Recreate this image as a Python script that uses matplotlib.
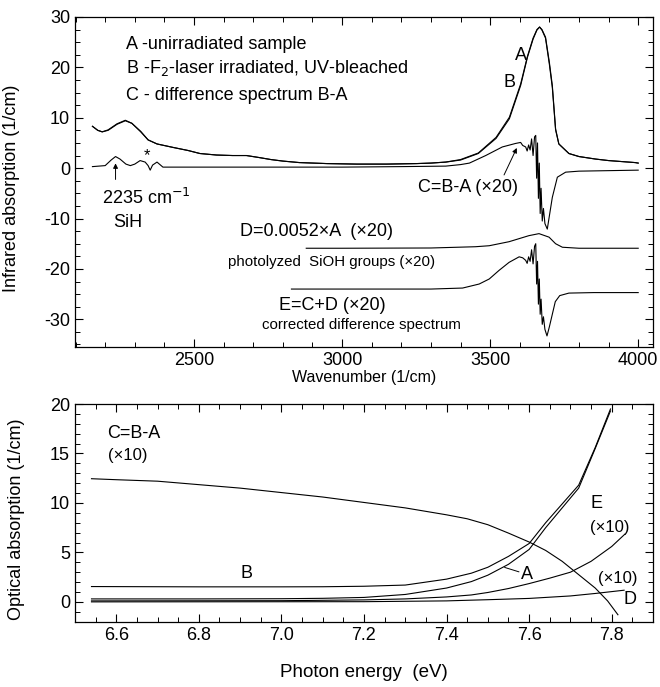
import matplotlib
matplotlib.use('Agg')
import matplotlib.pyplot as plt
from matplotlib.ticker import MultipleLocator

plt.rcParams['font.family'] = ['Liberation Sans', 'DejaVu Sans']
plt.rcParams['axes.unicode_minus'] = False

# ---- top panel: IR spectra (wavenumber, 1/cm) ----
wn_ab = [2157, 2175, 2190, 2210, 2240, 2268, 2290, 2320, 2345, 2375, 2430, 2480,
         2520, 2576, 2630, 2677, 2720, 2760, 2800, 2856, 2950, 3050, 3150, 3250,
         3300, 3350, 3400, 3460, 3520, 3565, 3603, 3626, 3645, 3658, 3667, 3675,
         3687, 3700, 3710, 3721, 3732, 3766, 3800, 3856, 3900, 3990, 4000]
ir_a = [8.3, 7.5, 7.2, 7.5, 8.7, 9.4, 8.9, 7.2, 5.6, 4.8, 4.1, 3.5,
        2.9, 2.6, 2.5, 2.5, 2.1, 1.7, 1.4, 1.1, 0.9, 0.8, 0.8, 0.9,
        1.0, 1.2, 1.6, 2.9, 5.9, 9.8, 16.4, 22.0, 25.6, 27.4, 28.0, 27.5,
        26.0, 21.0, 16.4, 7.8, 4.8, 2.9, 2.3, 1.8, 1.5, 1.1, 1.0]
ir_b = [8.3, 7.5, 7.2, 7.6, 8.8, 9.5, 8.9, 7.3, 5.6, 4.8, 4.1, 3.5,
        2.9, 2.6, 2.5, 2.5, 2.1, 1.7, 1.4, 1.1, 0.9, 0.8, 0.8, 0.9,
        1.0, 1.2, 1.7, 3.0, 6.1, 10.1, 16.7, 22.2, 25.8, 27.5, 28.0, 27.4,
        25.8, 20.6, 16.0, 7.6, 4.8, 2.9, 2.3, 1.8, 1.5, 1.1, 1.0]

wn_c = [2157, 2200, 2220, 2235, 2250, 2270, 2285, 2300, 2318, 2335, 2345, 2352,
        2360, 2375, 2385, 2395, 2450, 2600, 2800, 3000, 3200, 3350, 3400, 3430,
        3485, 3541, 3586, 3603, 3610, 3620, 3625, 3630, 3635, 3640, 3645, 3650,
        3654, 3657, 3660, 3663, 3666, 3669, 3672, 3676, 3680, 3685, 3693, 3700,
        3710, 3727, 3755, 3800, 3900, 4000]
ir_c = [0.3, 0.5, 1.6, 2.3, 1.8, 0.8, 0.5, 0.8, 1.5, 1.2, 0.5, -0.4,
        0.6, 1.2, 0.7, 0.2, 0.2, 0.2, 0.2, 0.2, 0.3, 0.4, 0.7, 1.0,
        2.5, 4.2, 4.9, 5.1, 4.5, 4.2, 3.4, 4.6, 3.6, 5.8, 2.5, 6.2,
        6.5, -2.0, 5.0, -6.0, 1.0, -9.0, -4.0, -10.5, -8.0, -11.0, -12.1, -9.5,
        -5.8, -1.8, -0.8, -0.6, -0.5, -0.4]

wn_d = [2879, 3000, 3300, 3450, 3497, 3564, 3631, 3665, 3699, 3721, 3744, 3800, 4000]
ir_d = [-15.9, -15.9, -15.85, -15.6, -15.4, -14.6, -13.4, -13.0, -13.7, -15.0, -15.7,
        -15.9, -15.9]

wn_e = [2829, 3000, 3300, 3407, 3463, 3497, 3530, 3564, 3598, 3610, 3620, 3625,
        3630, 3635, 3640, 3645, 3650, 3654, 3657, 3660, 3663, 3666, 3669, 3672,
        3676, 3680, 3685, 3692, 3700, 3710, 3720, 3735, 3766, 3850, 4000]
ir_e = [-24.0, -24.0, -24.0, -23.8, -23.0, -22.0, -20.3, -18.7, -17.6, -17.8, -18.3, -18.9,
        -17.6, -18.5, -16.2, -19.0, -15.5, -15.0, -23.0, -18.5, -27.0, -22.0, -29.0, -26.0,
        -31.0, -29.5, -32.0, -33.3, -31.5, -29.0, -26.5, -25.3, -24.8, -24.7, -24.7]

# ---- bottom panel: optical absorption vs photon energy (eV) ----
ev_c = [6.54, 6.6, 6.7, 6.8, 6.9, 7.0, 7.1, 7.2, 7.3, 7.4, 7.45, 7.5, 7.55, 7.6,
        7.64, 7.68, 7.72, 7.76, 7.79, 7.815]
uv_c = [12.45, 12.35, 12.2, 11.85, 11.5, 11.05, 10.6, 10.05, 9.5, 8.8, 8.4, 7.8, 6.95,
        6.05, 5.2, 4.1, 2.75, 1.4, 0.1, -1.3]

ev_ab = [6.54, 6.8, 7.0, 7.1, 7.2, 7.3, 7.4, 7.46, 7.5, 7.55, 7.6, 7.64, 7.68,
         7.72, 7.76, 7.797]
uv_a = [0.3, 0.3, 0.32, 0.36, 0.45, 0.75, 1.4, 2.05, 2.7, 3.8, 5.3, 7.5, 9.5,
        11.5, 15.5, 19.3]
uv_b = [1.55, 1.52, 1.52, 1.53, 1.58, 1.7, 2.3, 2.9, 3.5, 4.6, 5.9, 8.0, 9.9,
        11.8, 15.6, 19.5]

ev_e = [6.54, 7.0, 7.2, 7.3, 7.4, 7.46, 7.5, 7.55, 7.6, 7.65, 7.7, 7.75, 7.8, 7.832]
uv_e = [0.1, 0.12, 0.2, 0.3, 0.5, 0.7, 0.95, 1.35, 1.85, 2.4, 3.0, 4.1, 5.6, 6.85]

ev_d = [6.54, 7.2, 7.4, 7.457, 7.5, 7.6, 7.7, 7.76, 7.83]
uv_d = [0.0, 0.02, 0.1, 0.17, 0.22, 0.35, 0.6, 0.85, 1.18]

fig = plt.figure(figsize=(6.6, 6.87), dpi=100)
ax1 = fig.add_axes([0.1136, 0.4949, 0.8758, 0.4804])
ax2 = fig.add_axes([0.1136, 0.0951, 0.8758, 0.3168])

lw = 0.8
ax1.plot(wn_ab, ir_a, color='black', lw=lw)
ax1.plot(wn_ab, ir_b, color='black', lw=lw)
ax1.plot(wn_c, ir_c, color='black', lw=lw)
ax1.plot(wn_d, ir_d, color='black', lw=lw)
ax1.plot(wn_e, ir_e, color='black', lw=lw)

ax1.set_xlim(2098, 4050)
ax1.set_ylim(-35.5, 30)
ax1.xaxis.set_major_locator(MultipleLocator(500))
ax1.xaxis.set_minor_locator(MultipleLocator(100))
ax1.yaxis.set_major_locator(MultipleLocator(10))
ax1.yaxis.set_minor_locator(MultipleLocator(2.5))
ax1.set_xticks([2500, 3000, 3500, 4000])
ax1.set_xlabel('Wavenumber (1/cm)', fontsize=11.5, labelpad=1)
ax1.set_ylabel('Infrared absorption (1/cm)', fontsize=13)
ax1.yaxis.set_label_coords(-0.095, 0.48)

fs = 13
sm = 10.8
ax1.text(2270, 23.7, 'A -unirradiated sample', fontsize=fs)
ax1.text(2270, 18.8, 'B -F$_2$-laser irradiated, UV-bleached', fontsize=fs)
ax1.text(2270, 13.5, 'C - difference spectrum B-A', fontsize=fs)
ax1.text(3583, 21.4, 'A', fontsize=fs)
ax1.text(3544, 16.2, 'B', fontsize=fs)
ax1.text(3256, -4.8, 'C=B-A (\u00d720)', fontsize=fs)
ax1.annotate('', xy=(3594, 4.5), xytext=(3543, -1.85),
             arrowprops=dict(arrowstyle='-|>', color='black', lw=0.7,
                             mutation_scale=7))
ax1.annotate('', xy=(2235, 1.5), xytext=(2235, -2.8),
             arrowprops=dict(arrowstyle='-|>', color='black', lw=0.7,
                             mutation_scale=7))
ax1.text(2189, -7.2, '2235 cm$^{-1}$', fontsize=fs)
ax1.text(2226, -11.7, 'SiH', fontsize=fs)
ax1.text(2341, 2.5, '*', fontsize=12, ha='center', va='center')
ax1.text(2655, -13.4, 'D=0.0052\u00d7A  (\u00d720)', fontsize=fs)
ax1.text(2614, -19.5, 'photolyzed  SiOH groups (\u00d720)', fontsize=sm)
ax1.text(2787, -28.2, 'E=C+D (\u00d720)', fontsize=fs)
ax1.text(2729, -31.9, 'corrected difference spectrum', fontsize=sm)

ax2.plot(ev_c, uv_c, color='black', lw=lw)
ax2.plot(ev_ab, uv_a, color='black', lw=lw)
ax2.plot(ev_ab, uv_b, color='black', lw=lw)
ax2.plot(ev_e, uv_e, color='black', lw=lw)
ax2.plot(ev_d, uv_d, color='black', lw=lw)

ax2.set_xlim(6.5, 7.9)
ax2.set_ylim(-2, 20)
ax2.xaxis.set_major_locator(MultipleLocator(0.2))
ax2.xaxis.set_minor_locator(MultipleLocator(0.05))
ax2.yaxis.set_major_locator(MultipleLocator(5))
ax2.yaxis.set_minor_locator(MultipleLocator(1))
ax2.set_xticks([6.6, 6.8, 7.0, 7.2, 7.4, 7.6, 7.8])
ax2.set_xlabel('Photon energy  (eV)', fontsize=13.5, labelpad=15)
ax2.set_ylabel('Optical absorption (1/cm)', fontsize=13)
ax2.yaxis.set_label_coords(-0.087, 0.47)

ax2.text(6.579, 16.6, 'C=B-A', fontsize=fs)
ax2.text(6.579, 14.3, '(\u00d710)', fontsize=12)
ax2.text(6.915, 2.37, 'B', fontsize=fs, ha='center')
ax2.text(7.594, 2.3, 'A', fontsize=fs, ha='center')
ax2.plot([7.541, 7.575], [3.48, 3.04], color='black', lw=0.7)
ax2.text(7.764, 9.45, 'E', fontsize=fs, ha='center')
ax2.text(7.796, 7.1, '(\u00d710)', fontsize=12, ha='center')
ax2.text(7.815, 1.92, '(\u00d710)', fontsize=12, ha='center')
ax2.text(7.844, -0.23, 'D', fontsize=fs, ha='center')

for ax in (ax1, ax2):
    ax.tick_params(which='both', direction='in', top=True, right=True,
                   labelsize=13)
    ax.tick_params(which='major', length=6, width=0.8)
    ax.tick_params(which='minor', length=3.5, width=0.7)
    for s in ax.spines.values():
        s.set_linewidth(0.9)

fig.savefig('out.png', dpi=100)
